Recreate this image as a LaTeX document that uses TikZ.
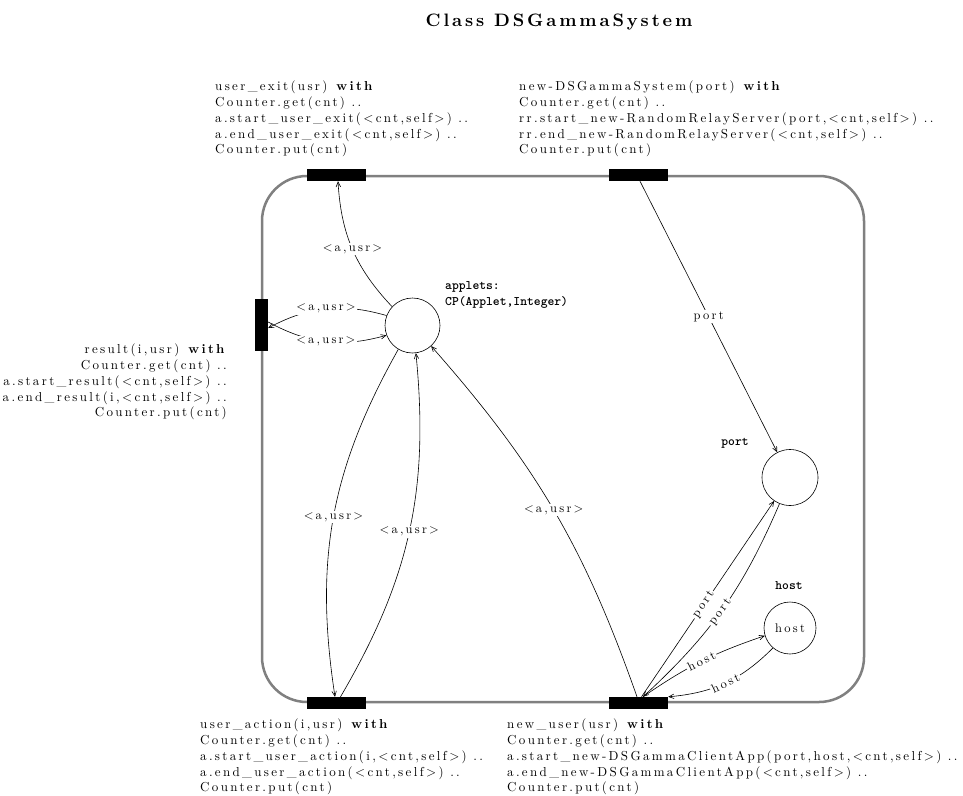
\documentclass[tikz,border=0pt]{standalone}
\usepackage{fontspec}
\setmainfont{lmroman10-regular.otf}[BoldFont=lmroman10-bold.otf,LetterSpace=18]
\newfontfamily\titlefont{lmroman10-bold.otf}[LetterSpace=16]
\newfontfamily\pltt{lmmonolt10-bold.otf}
\usetikzlibrary{arrows.meta}
\newcommand\codefont{\fontsize{13}{15.7}\selectfont}
\newcommand\lblfont{\fontsize{12.5}{14}\selectfont}
\newcommand\plfont{\pltt\fontsize{13}{16}\selectfont}
\newcommand\au{<\,a,usr\,>}
\begin{document}
\begin{tikzpicture}[x=1pt,y=-1pt,
  >={Straight Barb[length=5pt,width=4.5pt]},
  arr/.style={->,line width=0.6pt},
  trans/.style={fill=black,draw=none,inner sep=0pt,minimum width=59pt,minimum height=12pt},
  transv/.style={fill=black,draw=none,inner sep=0pt,minimum width=13pt,minimum height=52pt},
  place/.style={circle,draw,line width=0.6pt,inner sep=0pt},
  lbl/.style={fill=white,inner sep=1.5pt,font=\lblfont},
  code/.style={inner sep=0pt,font=\codefont,align=left},
  pl/.style={inner sep=0pt,font=\plfont,align=left},
]
\useasboundingbox (0,0) rectangle (963,795);
\fill[white] (0,0) rectangle (963,795);
% title
\node[anchor=base,font=\titlefont\fontsize{18}{20}\selectfont] (title) at (559,26) {Class DSGammaSystem};
% frame
\draw[black!50,line width=2.5pt,rounded corners=45pt] (262,176) rectangle (864,702);
% transitions
\node[trans] (t1) at (336.5,175) {};
\node[trans] (t2) at (638.5,175) {};
\node[trans] (t3) at (336.5,703) {};
\node[trans] (t4) at (638.5,703) {};
\node[transv] (t5) at (261.5,325) {};
% places
\node[place,minimum size=55pt] (applets) at (412.5,325.5) {};
\node[place,minimum size=56pt] (port) at (790,477.5) {};
\node[place,minimum size=52pt,font=\lblfont] (host) at (790,628) {host};
\node[pl,anchor=west] (appletslbl) at (445,295) {applets:\\CP(Applet,Integer)};
\node[pl] (portlbl) at (735,443) {port};
\node[pl] (hostlbl) at (789,586) {host};
% code blocks
\node[code,anchor=north west] (c1) at (215,81) {user\_exit(usr) \textbf{with}\\Counter.get(cnt) ..\\a.start\_user\_exit(<cnt,self>) ..\\a.end\_user\_exit(<cnt,self>) ..\\Counter.put(cnt)};
\node[code,anchor=north west] (c2) at (519,81) {new-DSGammaSystem(port) \textbf{with}\\Counter.get(cnt) ..\\rr.start\_new-RandomRelayServer(port,<cnt,self>) ..\\rr.end\_new-RandomRelayServer(<cnt,self>) ..\\Counter.put(cnt)};
\node[code,anchor=north east,align=right] (c5) at (227,344) {result(i,usr) \textbf{with}\\Counter.get(cnt) ..\\a.start\_result(<cnt,self>) ..\\a.end\_result(i,<cnt,self>) ..\\Counter.put(cnt)};
\node[code,anchor=north west] (c3) at (200,719) {user\_action(i,usr) \textbf{with}\\Counter.get(cnt) ..\\a.start\_user\_action(i,<cnt,self>) ..\\a.end\_user\_action(<cnt,self>) ..\\Counter.put(cnt)};
\node[code,anchor=north west] (c4) at (507,719) {new\_user(usr) \textbf{with}\\Counter.get(cnt) ..\\a.start\_new-DSGammaClientApp(port,host,<cnt,self>) ..\\a.end\_new-DSGammaClientApp(<cnt,self>) ..\\Counter.put(cnt)};
% arcs
\draw[arr] (applets) to[bend left=20] node[lbl]{\au} ([xshift=1.5pt]t1.south);
\draw[arr] (applets) to[bend right=22] node[lbl]{\au} ([yshift=-3pt]t5.east);
\draw[arr] ([yshift=3pt]t5.east) to[bend right=22] node[lbl]{\au} (applets);
\draw[arr] (applets) to[bend right=19] node[lbl]{\au} ([xshift=-1.5pt]t3.north);
\draw[arr] ([xshift=4pt]t3.north) to[bend right=18] node[lbl]{\au} (applets);
\draw[arr] ([xshift=-1.5pt]t4.north) to[bend right=11] node[lbl]{\au} (applets);
\draw[arr] ([xshift=1.5pt]t2.south) -- node[lbl]{port} (port);
\draw[arr] ([xshift=3pt]t4.north) -- node[lbl,sloped,pos=0.47]{port} (port);
\draw[arr] (port) to[bend left=12] node[lbl,sloped,pos=0.52]{port} ([xshift=4.5pt]t4.north);
\draw[arr] ([xshift=4.5pt]t4.north) to[bend left=8] node[lbl,sloped]{host} (host);
\draw[arr] (host) to[bend left=20] node[lbl,sloped]{host} (t4.north east);
\end{tikzpicture}
\end{document}
